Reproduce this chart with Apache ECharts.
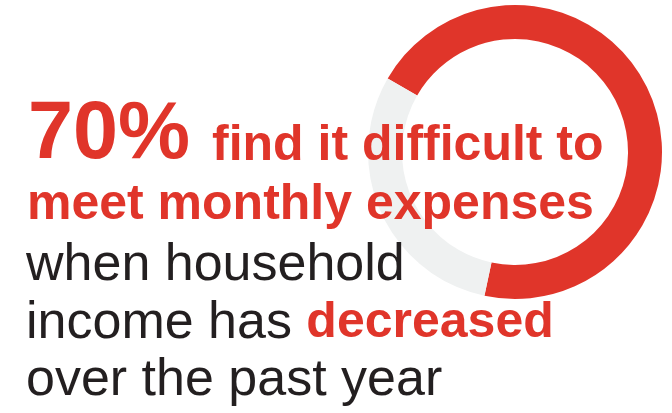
<!DOCTYPE html>
<html>
<head>
<meta charset="utf-8">
<script src="https://cdn.jsdelivr.net/npm/echarts@6/dist/echarts.min.js"></script>
<style>
html,body{margin:0;padding:0;background:#fff;}
#chart{width:672px;height:413px;}
</style>
</head>
<body>
<div id="chart"></div>
<script>
// Data
var sliceNames = ['Find it difficult', 'Other'];
var sliceValues = [70, 30];
var headlineValue = '70%';
var line1Rest = 'find it difficult to';
var line2 = 'meet monthly expenses';
var line3 = 'when household';
var line4Black = 'income has ';
var line4Red = 'decreased';
var line5 = 'over the past year';

var RED = '#e0352a';
var GRAY = '#eff1f1';
var INK = '#231f20';
var FAM = "'Liberation Sans', Arial, Helvetica, sans-serif";

var chart = echarts.init(document.getElementById('chart'), null, {renderer: 'canvas'});

function txt(x, baseline, size, weight, color, text, richLine) {
  var el = {
    type: 'text',
    z: 100,
    silent: true,
    x: x,
    y: baseline - size * 0.32,
    style: {
      text: text,
      fill: color,
      font: weight + ' ' + size + 'px ' + FAM,
      verticalAlign: 'middle',
      align: 'left'
    }
  };
  if (richLine) {
    el.style.rich = richLine;
  }
  return el;
}

var richMixed = {
  k: { fill: INK, fontSize: 52, fontWeight: 'normal', fontFamily: FAM },
  r: { fill: RED, fontSize: 50, fontWeight: 'bold', fontFamily: FAM }
};

var option = {
  backgroundColor: '#ffffff',
  animation: false,
  series: [{
    type: 'pie',
    center: [515, 152],
    radius: [113, 147],
    startAngle: 150,
    clockwise: true,
    silent: true,
    label: { show: false },
    labelLine: { show: false },
    emphasis: { disabled: true },
    itemStyle: { borderWidth: 0 },
    data: sliceNames.map(function (n, i) {
      return { name: n, value: sliceValues[i], itemStyle: { color: i === 0 ? RED : GRAY } };
    })
  }],
  graphic: [
    txt(28, 162, 81, 'bold', RED, headlineValue),
    txt(212, 162, 50, 'bold', RED, line1Rest),
    txt(27, 221, 50, 'bold', RED, line2),
    txt(26, 282, 52, 'normal', INK, line3),
    txt(26, 340, 52, 'normal', INK, '{k|' + line4Black + '}{r|' + line4Red + '}', richMixed),
    txt(26, 397, 52, 'normal', INK, line5)
  ]
};
chart.setOption(option);
</script>
</body>
</html>
